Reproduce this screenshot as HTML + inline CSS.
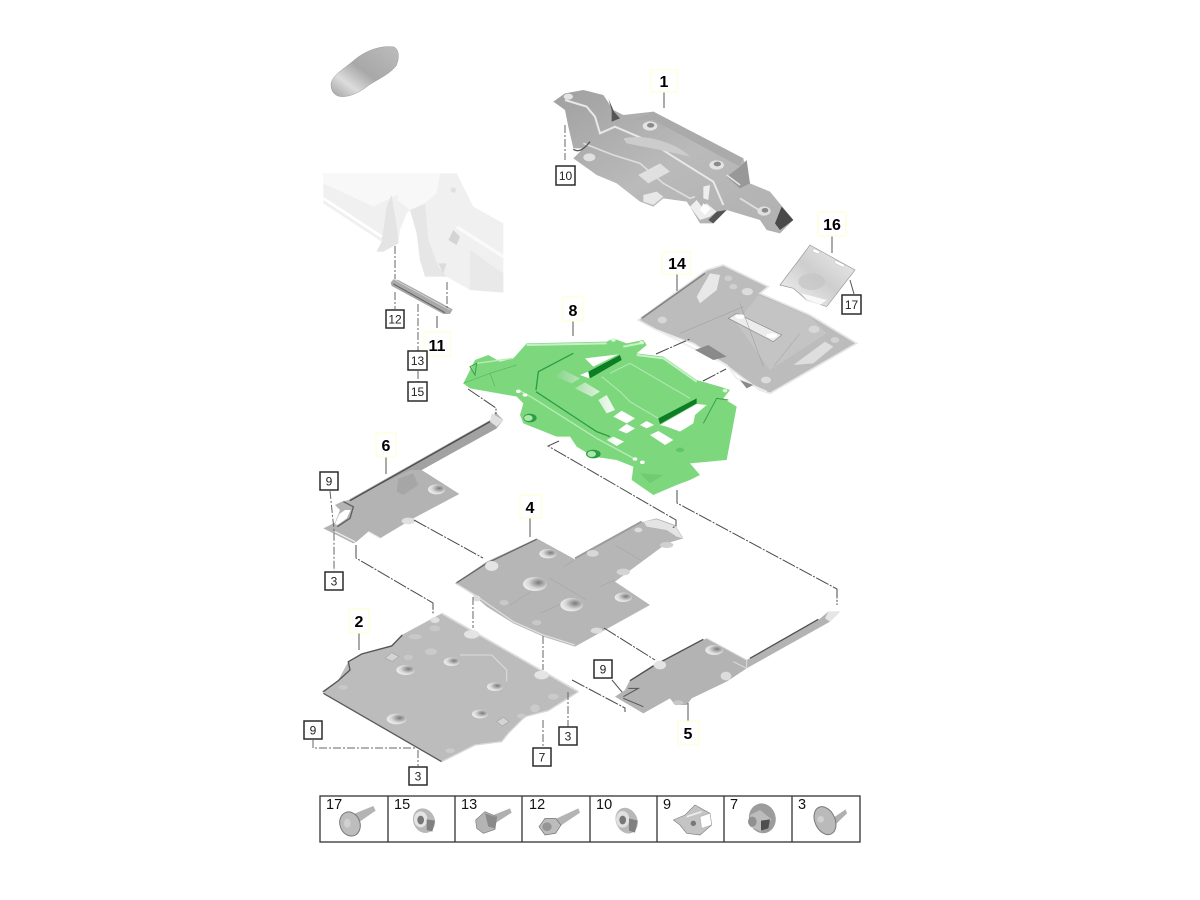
<!DOCTYPE html>
<html><head><meta charset="utf-8"><style>
html,body{margin:0;padding:0;background:#fff}
svg{display:block}
.b{font:bold 16px "Liberation Sans",sans-serif;text-anchor:middle;fill:#000}
.n{font:12px "Liberation Sans",sans-serif;text-anchor:middle;fill:#222}
.c{font:14.5px "Liberation Sans",sans-serif;fill:#111}
.l{fill:none;stroke:#484848;stroke-width:1;stroke-dasharray:14 1.5 2 1.5}
.v{fill:none;stroke:#666;stroke-width:1;stroke-dasharray:8 2 2 2}
.s{fill:none;stroke:#555;stroke-width:1}
.y{fill:#fff;stroke:#ffffd0;stroke-width:1}
</style></head><body>
<svg width="1200" height="900" viewBox="0 0 1200 900" xmlns="http://www.w3.org/2000/svg">
<defs>
<filter id="bl" x="-5%" y="-5%" width="110%" height="110%"><feGaussianBlur stdDeviation="0.35"/></filter>
<linearGradient id="car" x1="0" y1="1" x2="1" y2="0"><stop offset="0" stop-color="#a0a0a0"/><stop offset=".25" stop-color="#dcdcdc"/><stop offset=".5" stop-color="#a8a8a8"/><stop offset="1" stop-color="#bcbcbc"/></linearGradient>
<linearGradient id="g1" x1="0" y1="0" x2="1" y2="1"><stop offset="0" stop-color="#a0a0a0"/><stop offset=".5" stop-color="#bababa"/><stop offset="1" stop-color="#b0b0b0"/></linearGradient>
<linearGradient id="w1" x1="0" y1="0" x2="1" y2="0"><stop offset="0" stop-color="#88d488"/><stop offset=".55" stop-color="#fff"/><stop offset="1" stop-color="#fff"/></linearGradient>
<linearGradient id="s16" x1="0" y1="1" x2="1" y2="0"><stop offset="0" stop-color="#f6f6f6"/><stop offset=".5" stop-color="#cecece"/><stop offset="1" stop-color="#f0f0f0"/></linearGradient>
<radialGradient id="hole" cx=".65" cy=".4" r=".7"><stop offset="0" stop-color="#7a7a7a"/><stop offset=".6" stop-color="#d8d8d8"/><stop offset="1" stop-color="#f2f2f2"/></radialGradient>
</defs>

<g filter="url(#bl)">
<!-- car -->
<path d="M331,84 C332,76 342,70 352,62 C365,50 382,45 394,47 C400,50 399,60 396,66 C388,76 375,80 365,88 C355,95 345,98 338,96 C333,94 331,90 331,84Z" fill="url(#car)" stroke="#999" stroke-width=".5"/>

<!-- body -->
<g transform="translate(310,60) scale(.33333)">
<path d="M40,340 L440,340 L490,440 L580,490 L580,698 L480,690 L410,650 L345,650 L330,600 L320,520 L300,450 L290,460 L270,510 L265,550 L220,575 L200,575 L215,545 L100,470 L40,430Z" fill="#f0f0f0"/>
<path d="M40,340H280L270,400L190,440L40,370Z" fill="#f8f8f8"/>
<path d="M40,415 L215,530" stroke="#fff" stroke-width="8" fill="none"/>
<path d="M230,440 L245,405 L262,510 L265,550 L220,575 L200,575 L215,545Z" fill="#e4e4e4"/>
<path d="M300,450 L345,430 L355,540 L385,620 L410,650 L345,650 L330,600 L320,520Z" fill="#e6e6e6"/>
<path d="M280,340 L390,340 L380,400 L345,430 L300,450 L262,420Z" fill="#f8f8f8"/>
<path d="M415,540 L430,510 L450,530 L440,555Z" fill="#d4d4d4"/>
<path d="M480,570 L580,640 L580,698 L480,690Z" fill="#e9e9e9"/>
<path d="M385,610 L410,610 L400,640Z" fill="#dcdcdc"/>
<path d="M440,500 L580,590" stroke="#fafafa" stroke-width="10" fill="none"/>
<circle cx="430" cy="390" r="8" fill="#e0e0e0"/>
</g>

<!-- bracket 11 -->
<g transform="translate(310,60) scale(.33333)">
<path d="M242,668 L250,658 L265,660 L428,748 L420,762 L400,762 L245,678Z" fill="#a8a8a8"/>
<path d="M250,672 L405,758" stroke="#606060" stroke-width="3" fill="none"/>
<path d="M255,660 L420,750" stroke="#d0d0d0" stroke-width="3" fill="none"/>
</g>

<!-- part 1 -->
<g transform="translate(540,70) scale(.33333)">
<path d="M40,95 L75,70 L130,60 L190,75 L220,120 L250,135 L340,125 L610,265 L630,340 L690,365 L760,450 L720,490 L680,480 L660,450 L560,420 L520,460 L480,460 L450,410 L440,395 L370,385 L340,410 L300,395 L230,340 L170,315 L100,265 L130,235 L100,235 L85,170 L75,120Z" fill="url(#g1)"/>
<path d="M205,85 L222,125 L240,145 L215,155 L215,120Z" fill="#555"/>
<path d="M725,410 L760,450 L720,480 L705,460Z" fill="#4a4a4a"/>
<path d="M530,425 L560,420 L520,460 L505,450Z" fill="#555"/>
<path d="M620,270 L630,340 L600,355 L560,320 L600,290Z" fill="#989898"/>
<path d="M340,125 L610,265 L600,290 L340,150 L280,150Z" fill="#aaa"/>
<path d="M75,90 L140,110 L165,140 L180,190 L225,170 L330,215 L400,260 L520,335 L550,405" fill="none" stroke="#e8e8e8" stroke-width="6"/>
<path d="M130,220 L220,255 L300,280 L370,340 L450,385 L465,380" fill="none" stroke="#dddddd" stroke-width="5"/>
<path d="M560,315 L600,345" stroke="#e5e5e5" stroke-width="5"/>
<path d="M600,385 L665,425" stroke="#dcdcdc" stroke-width="6"/>
<path d="M250,205 C320,190 410,220 450,260 L360,240 L260,220Z" fill="#cccccc"/>
<path d="M295,315 L360,280 L390,305 L325,340Z" fill="#e0e0e0"/>
<path d="M310,375 L350,365 L370,380 L340,405 L310,395Z" fill="#e8e8e8"/>
<path d="M450,410 L480,450 L510,440 L530,425 L500,400 L485,410 L470,390Z" fill="#eee"/>
<path d="M490,350 L510,345 L505,390 L490,385Z" fill="#eee"/>
<path d="M490,400 L512,415 L495,435 L480,420Z" fill="#fff"/>
<ellipse cx="330" cy="168" rx="22" ry="14" fill="#e4e4e4"/><ellipse cx="332" cy="166" rx="11" ry="7" fill="#8a8a8a"/>
<ellipse cx="530" cy="285" rx="22" ry="14" fill="#e4e4e4"/><ellipse cx="532" cy="282" rx="11" ry="7" fill="#8a8a8a"/>
<ellipse cx="672" cy="423" rx="20" ry="14" fill="#e0e0e0"/><ellipse cx="675" cy="421" rx="10" ry="7" fill="#8a8a8a"/>
<ellipse cx="148" cy="262" rx="18" ry="12" fill="#e0e0e0"/>
<ellipse cx="85" cy="80" rx="14" ry="9" fill="#e4e4e4"/><path d="M100,238 C115,248 130,240 150,215" fill="none" stroke="#555" stroke-width="4"/>
</g>

<!-- part 14 and 16 -->
<g transform="translate(540,70) scale(.33333)">
<path d="M295,750 L500,600 L550,585 L685,650 L660,670 L810,735 L950,820 L915,840 L690,970 L660,960 L610,925 L550,880 L460,820 L430,810 L350,780Z" fill="#bcbcbc" stroke="#e6e6e6" stroke-width="5"/>
<path d="M305,745 L495,610" stroke="#858585" stroke-width="5"/>
<path d="M655,675 L810,740 L860,790 L690,900 L590,760Z" fill="#c4c4c4"/>
<path d="M565,745 L590,730 L725,795 L700,815Z" fill="#ececec" stroke="#888" stroke-width="2"/><ellipse cx="600" cy="740" rx="14" ry="7" fill="#fff"/><ellipse cx="695" cy="797" rx="16" ry="7" fill="#fff"/>
<path d="M470,680 L510,610 L540,615 L530,660 L480,700Z" fill="#e8e8e8"/>
<path d="M760,885 L855,815 L880,830 L820,880Z" fill="#dedede"/>
<path d="M350,780 L420,815 L560,885 L590,925 L680,965" fill="none" stroke="#eee" stroke-width="5"/>
<path d="M465,840 L505,825 L560,860 L520,870Z M600,930 L640,945 L620,955Z" fill="#8a8a8a"/>
<ellipse cx="367" cy="750" rx="14" ry="10" fill="#d6d6d6"/><ellipse cx="622" cy="665" rx="17" ry="11" fill="#dcdcdc"/><ellipse cx="822" cy="778" rx="16" ry="11" fill="#d8d8d8"/><ellipse cx="678" cy="930" rx="15" ry="10" fill="#dcdcdc"/><ellipse cx="565" cy="625" rx="12" ry="8" fill="#cfcfcf"/><ellipse cx="580" cy="650" rx="12" ry="8" fill="#d0d0d0"/><ellipse cx="885" cy="810" rx="13" ry="9" fill="#d2d2d2"/>
<path d="M600,700 L670,890 M700,890 L780,790 M420,790 L610,710" stroke="#9a9a9a" stroke-width="1.5" fill="none"/>
<path d="M720,645 L810,525 L945,600 L860,710 L800,690 L760,655Z" fill="url(#s16)" stroke="#999" stroke-width="2"/>
<ellipse cx="815" cy="635" rx="40" ry="25" fill="#c4c4c4" opacity=".7"/>
<path d="M785,670 L860,690 L840,705 L800,690Z" fill="#fff" opacity=".8"/>
<path d="M820,535 L840,545 L835,552 L818,545Z M885,570 L915,585 L910,592 L885,580Z" fill="#fff" stroke="#aaa"/>
</g>

<!-- part 8 -->
<g transform="translate(450,320) scale(.33333)">
<path d="M40,190 L75,120 L115,105 L150,125 L190,115 L230,70 L470,65 L490,55 L530,70 L580,60 L590,75 L560,100 L640,110 L740,180 L810,200 L840,210 L820,235 L860,260 L830,420 L720,430 L750,465 L720,480 L680,495 L610,525 L545,480 L550,440 L500,420 L430,410 L380,380 L360,350 L320,350 L220,310 L210,285 L220,250 L200,230 L60,205Z" fill="#7dd87d"/>
<path d="M405,115 L505,103 L430,140Z M390,165 L415,155 L418,175Z M630,315 L740,252 L770,255 L735,285 L730,310 L690,335 L650,320Z" fill="#fff"/>
<path d="M315,170 L340,150 L390,175 L365,190Z M375,205 L405,187 L450,215 L425,230Z M445,240 L470,225 L495,270 L470,280Z M490,290 L515,272 L555,295 L530,310Z M505,330 L530,312 L555,325 L530,340Z M570,315 L590,303 L612,315 L590,325Z M600,345 L625,333 L670,360 L645,375Z M470,360 L490,350 L522,365 L500,378Z" fill="url(#w1)"/>
<path d="M415,155 L510,105 L515,120 L420,175Z M625,295 L740,235 L740,250 L630,312Z" fill="#0c7d28"/>
<path d="M258,210 L265,155 L370,100 M258,215 L440,335 L480,350" fill="none" stroke="#2f9c45" stroke-width="4"/>
<path d="M230,75 L470,70 M520,80 L570,70 M560,105 L640,115 L740,185" fill="none" stroke="#c6f0c6" stroke-width="6"/>
<path d="M455,170 L510,215 L540,245 L625,295 M480,160 L540,130 L720,235" fill="none" stroke="#b4eab4" stroke-width="3"/>
<path d="M205,210 L250,235 L440,355 L560,420 M80,130 L190,115" fill="none" stroke="#b8ecb8" stroke-width="4"/>
<path d="M120,160 L135,200 M40,190 L120,160 L200,135" fill="none" stroke="#54b85c" stroke-width="2"/>
<path d="M60,140 L80,130 L75,165Z M760,310 L800,235 L835,240" fill="none" stroke="#3ba04a" stroke-width="3"/>
<ellipse cx="240" cy="294" rx="20" ry="13" fill="#2f9c45"/><ellipse cx="235" cy="294" rx="13" ry="9" fill="#a8e8a8"/>
<ellipse cx="430" cy="402" rx="22" ry="13" fill="#2f9c45"/><ellipse cx="425" cy="402" rx="13" ry="9" fill="#a8e8a8"/>
<ellipse cx="205" cy="214" rx="7" ry="5" fill="#fff"/><ellipse cx="225" cy="225" rx="7" ry="5" fill="#fff"/><ellipse cx="555" cy="417" rx="7" ry="5" fill="#fff"/><ellipse cx="577" cy="427" rx="7" ry="5" fill="#fff"/>
<ellipse cx="490" cy="60" rx="7" ry="5" fill="#d8f8d8"/><ellipse cx="575" cy="68" rx="7" ry="5" fill="#d8f8d8"/><ellipse cx="825" cy="212" rx="7" ry="5" fill="#d8f8d8"/><ellipse cx="690" cy="390" rx="12" ry="7" fill="#60c668"/>
<path d="M570,460 L640,465 L600,490Z" fill="#6fcc70"/>
</g>

<!-- part 6 -->
<g transform="translate(300,410) scale(.33333)">
<path d="M70,355 L105,338 L120,300 L105,285 L125,275 L145,270 L580,25 L585,5 L610,30 L590,55 L365,180 L478,252 L340,325 L240,385 L205,365 L170,395 L160,400 L110,375Z" fill="#b3b3b3"/>
<path d="M118,312 L135,300 L152,300 L140,325 L112,345 L105,342Z" fill="#fff"/>
<path d="M145,270 L580,25 L590,55 L365,180 L330,180Z" fill="#a2a2a2"/>
<path d="M150,272 L570,35" stroke="#4c4c4c" stroke-width="4"/>
<path d="M112,350 L150,325 L160,290 L130,275" fill="none" stroke="#606060" stroke-width="4"/>
<path d="M575,10 L610,30 L590,50 L570,35Z" fill="#e0e0e0"/>
<path d="M295,205 L340,190 L355,225 L310,255 L290,245Z" fill="#a6a6a6"/>
<ellipse cx="410" cy="238" rx="26" ry="15" fill="url(#hole)"/>
<ellipse cx="325" cy="333" rx="20" ry="10" fill="#e0e0e0"/>
<path d="M105,365 L165,395 M205,365 L240,385" stroke="#eee" stroke-width="4" fill="none"/>
</g>

<!-- part 4 -->
<g transform="translate(300,410) scale(.33333)">
<path d="M465,520 L560,455 L710,385 L825,448 L1030,335 L1070,325 L1125,345 L1150,385 L1100,400 L945,515 L1050,585 L825,710 L730,680 L640,640 L560,590 L520,555Z" fill="#b6b6b6"/>
<path d="M470,518 L560,460 L710,388" fill="none" stroke="#666" stroke-width="4"/>
<path d="M1030,335 L1070,328 L1125,348 L1148,385 L1130,380 L1100,360 L1040,350Z" fill="#e4e4e4"/>
<path d="M470,522 L525,555 L640,635 L730,675 L825,705" fill="none" stroke="#dedede" stroke-width="4"/>
<path d="M825,445 L1025,335" fill="none" stroke="#9b9b9b" stroke-width="6"/>
<path d="M790,470 L825,450 M900,530 L945,510 M945,405 L1020,450 M750,505 L860,570 M720,610 L810,570 M630,585 L700,540" stroke="#a0a0a0" stroke-width="1.5" fill="none"/>
<ellipse cx="705" cy="522" rx="36" ry="21" fill="url(#hole)"/><ellipse cx="815" cy="584" rx="34" ry="20" fill="url(#hole)"/>
<ellipse cx="744" cy="431" rx="26" ry="14" fill="url(#hole)"/><ellipse cx="970" cy="562" rx="26" ry="14" fill="url(#hole)"/>
<ellipse cx="575" cy="468" rx="20" ry="15" fill="#e4e4e4"/><ellipse cx="878" cy="430" rx="18" ry="10" fill="#d8d8d8"/><ellipse cx="970" cy="486" rx="20" ry="10" fill="#d4d4d4"/><ellipse cx="1100" cy="405" rx="20" ry="9" fill="#d0d0d0"/><ellipse cx="890" cy="662" rx="18" ry="9" fill="#dcdcdc"/><ellipse cx="530" cy="565" rx="12" ry="9" fill="#dcdcdc"/><ellipse cx="612" cy="578" rx="14" ry="8" fill="#c8c8c8"/><ellipse cx="710" cy="638" rx="14" ry="8" fill="#c8c8c8"/><ellipse cx="1015" cy="360" rx="12" ry="7" fill="#dcdcdc"/>
</g>

<!-- part 2 -->
<g transform="translate(295,590) scale(.33333)">
<path d="M80,305 L130,270 L160,215 L200,190 L290,165 L320,135 L440,70 L850,305 L760,360 L690,380 L640,430 L620,455 L540,465 L440,515Z" fill="#bcbcbc"/>
<path d="M85,305 L130,272 L165,240 L160,215 L200,192 L290,168 L322,135" fill="none" stroke="#555" stroke-width="4"/>
<path d="M85,310 L440,515" fill="none" stroke="#585858" stroke-width="4"/>
<path d="M440,70 L850,305" fill="none" stroke="#dcdcdc" stroke-width="5"/>
<path d="M850,305 L760,362 L690,380 L640,430 L620,455 L540,465 L440,515" fill="none" stroke="#d8d8d8" stroke-width="4"/>
<path d="M495,195 L590,195 L635,240 L635,275" fill="none" stroke="#d6d6d6" stroke-width="4"/>
<ellipse cx="470" cy="215" rx="24" ry="13" fill="url(#hole)"/><ellipse cx="332" cy="240" rx="28" ry="15" fill="url(#hole)"/><ellipse cx="600" cy="290" rx="24" ry="13" fill="url(#hole)"/><ellipse cx="305" cy="387" rx="30" ry="16" fill="url(#hole)"/><ellipse cx="555" cy="372" rx="24" ry="13" fill="url(#hole)"/>
<ellipse cx="530" cy="133" rx="23" ry="13" fill="#e4e4e4"/><ellipse cx="740" cy="255" rx="22" ry="13" fill="#e4e4e4"/><ellipse cx="420" cy="90" rx="14" ry="9" fill="#e0e0e0"/>
<ellipse cx="408" cy="185" rx="18" ry="10" fill="#cacaca"/><ellipse cx="340" cy="202" rx="14" ry="8" fill="#c8c8c8"/><ellipse cx="420" cy="115" rx="16" ry="9" fill="#c8c8c8"/><ellipse cx="360" cy="140" rx="20" ry="8" fill="#c8c8c8"/><ellipse cx="145" cy="292" rx="14" ry="7" fill="#c8c8c8"/><ellipse cx="775" cy="320" rx="16" ry="9" fill="#cacaca"/><ellipse cx="720" cy="355" rx="14" ry="12" fill="#cacaca"/><ellipse cx="680" cy="378" rx="14" ry="7" fill="#cacaca"/><ellipse cx="465" cy="482" rx="14" ry="7" fill="#cacaca"/>
<path d="M270,205 L290,188 L312,200 L292,214Z M605,395 L625,382 L642,395 L622,408Z" fill="#d4d4d4" stroke="#777"/>
</g>

<!-- part 5 -->
<g transform="translate(580,590) scale(.33333)">
<path d="M105,320 L135,300 L150,270 L220,225 L380,145 L500,210 L715,90 L745,65 L780,65 L770,75 L750,95 L500,235 L440,275 L335,325 L320,345 L285,345 L270,325 L190,370 L130,335Z" fill="#b3b3b3"/>
<path d="M150,272 L220,228 M225,225 L370,148 M510,205 L715,88" fill="none" stroke="#505050" stroke-width="4"/>
<path d="M130,320 L175,295 L145,295 M130,325 L190,350" fill="none" stroke="#555" stroke-width="3"/>
<path d="M380,145 L500,210 L500,235 L460,215" fill="none" stroke="#dcdcdc" stroke-width="3"/>
<path d="M745,65 L780,65 L750,95 L735,85Z" fill="#e6e6e6"/>
<ellipse cx="403" cy="180" rx="27" ry="15" fill="url(#hole)"/><ellipse cx="240" cy="225" rx="18" ry="13" fill="#e4e4e4"/><ellipse cx="438" cy="258" rx="16" ry="13" fill="#dcdcdc"/><ellipse cx="295" cy="338" rx="16" ry="7" fill="#c8c8c8"/>
</g>

<!-- fasteners row 1 -->
<g transform="translate(315,790) scale(.33333)">
<path d="M120,70 L175,48 L182,62 L130,98Z" fill="#b4b4b4"/><ellipse cx="105" cy="102" rx="30" ry="37" transform="rotate(-20 105 102)" fill="#bdbdbd" stroke="#777" stroke-width="3"/><ellipse cx="97" cy="100" rx="10" ry="14" fill="#d0d0d0"/>
<ellipse cx="327" cy="92" rx="32" ry="38" transform="rotate(-25 327 92)" fill="#b8b8b8"/><ellipse cx="317" cy="88" rx="20" ry="24" fill="#e4e4e4"/><ellipse cx="317" cy="90" rx="10" ry="13" fill="#777"/><path d="M335,88 L360,92 L352,125 L335,120Z" fill="#808080"/>
<path d="M535,75 L585,55 L590,68 L540,100Z" fill="#b0b0b0"/><path d="M482,90 L510,65 L545,80 L540,118 L505,130 L485,115Z" fill="#b4b4b4" stroke="#808080" stroke-width="2"/><path d="M510,70 L545,82 L540,115 L520,110Z" fill="#8a8a8a"/>
<path d="M715,90 L790,55 L795,68 L725,115Z" fill="#b4b4b4"/><path d="M672,110 L690,85 L722,85 L738,105 L722,130 L690,135Z" fill="#bcbcbc" stroke="#707070" stroke-width="2"/><ellipse cx="696" cy="110" rx="14" ry="13" fill="#949494"/>
</g>
<!-- fasteners row 2 -->
<g transform="translate(585,790) scale(.33333)">
<ellipse cx="125" cy="92" rx="32" ry="40" transform="rotate(-25 125 92)" fill="#b8b8b8"/><ellipse cx="113" cy="88" rx="20" ry="25" fill="#e0e0e0"/><ellipse cx="113" cy="90" rx="10" ry="13" fill="#777"/><path d="M132,85 L158,92 L150,128 L132,122Z" fill="#808080"/>
<path d="M265,90 L300,75 L330,45 L375,70 L380,105 L345,135 L305,130 L285,105Z" fill="#c4c4c4" stroke="#808080" stroke-width="2"/><path d="M345,80 L375,70 L380,105 L350,115Z" fill="#fff" stroke="#888"/><circle cx="325" cy="100" r="8" fill="#777"/><path d="M305,80 L350,65" stroke="#eee" stroke-width="5"/>
<ellipse cx="532" cy="85" rx="40" ry="45" transform="rotate(-15 532 85)" fill="#9c9c9c"/><path d="M495,75 L525,60 L560,88 L528,125 L495,110Z" fill="#bcbcbc"/><ellipse cx="502" cy="95" rx="13" ry="15" fill="#909090"/><path d="M528,92 L555,88 L550,115 L528,122Z" fill="#505050"/>
<path d="M735,90 L782,58 L786,70 L745,110Z" fill="#b0b0b0"/><ellipse cx="720" cy="92" rx="30" ry="44" transform="rotate(-25 720 92)" fill="#bababa" stroke="#787878" stroke-width="3"/><circle cx="707" cy="88" r="10" fill="#d0d0d0"/>
</g>
</g>

<!-- connector lines -->
<path class="v" d="M565,125V160"/>
<path class="v" d="M395,246V279"/><path class="v" d="M447,282V309"/><path class="v" d="M395,292V309"/><path class="v" d="M418,304V351"/><path class="v" d="M418,371V382"/>
<path class="s" d="M664,92V108"/><path class="s" d="M677,272V291"/><path class="s" d="M832,233V253"/><path class="s" d="M850,280L854,294"/>
<path class="s" d="M573,318V336"/><path class="s" d="M437,316V328"/>
<path class="s" d="M386,453V474"/><path class="s" d="M530,515V537"/><path class="s" d="M359,632V650"/><path class="s" d="M688,703V724"/>
<path class="l" d="M656,354L690,339"/><path class="l" d="M703,381L726,369"/>
<path class="l" d="M468,389L496,408V414"/>
<path class="l" d="M559,441L548,446L676,520V526L672,528"/><path class="l" d="M677,490V503L837,589V605"/>
<path class="l" d="M414,520L483,558"/><path class="l" d="M356,545V558L433,603V614"/>
<path class="v" d="M473,597V628"/><path class="v" d="M543,636V670"/><path class="l" d="M604,628L655,660"/>
<path class="v" d="M330,491L334,530V571"/><path class="l" d="M572,680L625,708V712"/><path class="s" d="M612,680L622,692"/>
<path class="v" d="M568,692V727"/><path class="v" d="M543,720V747"/><path class="v" d="M418,750V766"/><path class="v" d="M313,740V748H415"/>

<!-- bold labels -->
<g>
<rect class="y" x="651" y="70" width="26" height="22"/><text class="b" x="664" y="87">1</text>
<rect class="y" x="662" y="252" width="29" height="22"/><text class="b" x="677" y="269">14</text>
<rect class="y" x="818" y="212" width="28" height="24"/><text class="b" x="832" y="230">16</text>
<rect class="y" x="563" y="297" width="20" height="24"/><text class="b" x="573" y="316">8</text>
<rect class="y" x="376" y="433" width="20" height="24"/><text class="b" x="386" y="451">6</text>
<rect class="y" x="520" y="495" width="21" height="23"/><text class="b" x="530" y="513">4</text>
<rect class="y" x="349" y="609" width="20" height="24"/><text class="b" x="359" y="627">2</text>
<rect class="y" x="678" y="721" width="21" height="24"/><text class="b" x="688" y="739">5</text>
<rect class="y" x="424" y="332" width="27" height="24"/><text class="b" x="437" y="351">11</text>
</g>

<!-- boxed labels -->
<g fill="#fff" stroke="#2a2a2a" stroke-width="1.5">
<rect x="556" y="166" width="19" height="19"/><rect x="386" y="310" width="18" height="18"/><rect x="408" y="351" width="19" height="19"/><rect x="408" y="382" width="19" height="19"/><rect x="842" y="295" width="19" height="19"/><rect x="320" y="472" width="18" height="18"/><rect x="325" y="572" width="18" height="18"/><rect x="594" y="660" width="18" height="18"/><rect x="304" y="721" width="18" height="18"/><rect x="409" y="767" width="18" height="18"/><rect x="533" y="748" width="18" height="18"/><rect x="559" y="727" width="18" height="18"/>
</g>
<text class="n" x="565.5" y="180">10</text><text class="n" x="395" y="323.500">12</text><text class="n" x="417.5" y="365">13</text><text class="n" x="417.5" y="396">15</text><text class="n" x="851.5" y="309">17</text><text class="n" x="329" y="485.500">9</text><text class="n" x="334" y="585.500">3</text><text class="n" x="603" y="673.500">9</text><text class="n" x="313" y="734.500">9</text><text class="n" x="418" y="780.500">3</text><text class="n" x="542" y="761.500">7</text><text class="n" x="568" y="740.500">3</text>

<!-- table -->
<g fill="none" stroke="#333" stroke-width="1.3">
<rect x="320" y="796" width="540" height="46"/>
<path d="M388,796V842M455,796V842M522,796V842M590,796V842M657,796V842M724,796V842M792,796V842"/>
</g>
<g>
<text class="c" x="326" y="809">17</text><text class="c" x="394" y="809">15</text><text class="c" x="461" y="809">13</text><text class="c" x="529" y="809">12</text><text class="c" x="596" y="809">10</text><text class="c" x="663" y="809">9</text><text class="c" x="730" y="809">7</text><text class="c" x="798" y="809">3</text>
</g>
</svg>
</body></html>
